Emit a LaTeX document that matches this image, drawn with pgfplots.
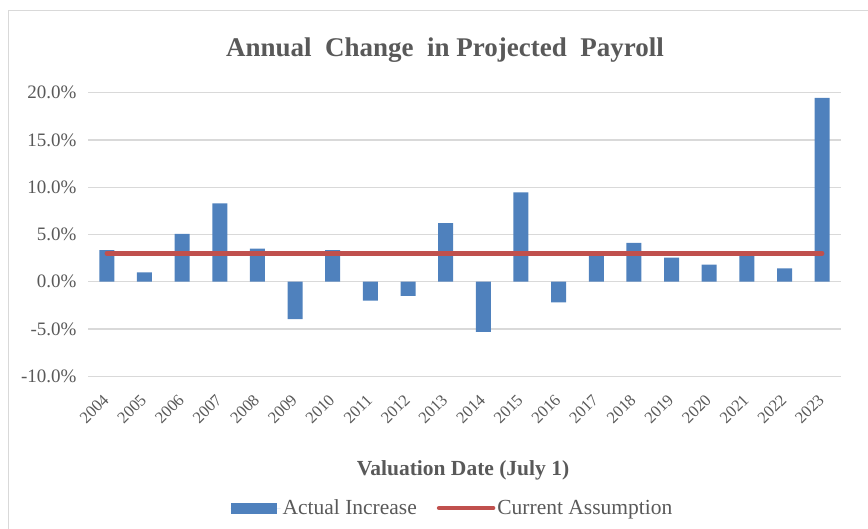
\documentclass[border=0pt]{standalone}
\usepackage{pgfplots}
\pgfplotsset{compat=1.18}
\usepackage{fontspec}
\setmainfont{Liberation Serif}
\definecolor{barblue}{HTML}{4F81BD}
\definecolor{linered}{HTML}{C0504D}
\definecolor{textgray}{HTML}{595959}
\definecolor{gridgray}{HTML}{D9D9D9}
\begin{document}
\begin{tikzpicture}[x=1pt,y=1pt]
\path[use as bounding box] (0,0) rectangle (868,-529);
\draw[gridgray, line width=1.2pt] (8.5,-540) -- (8.5,-10.5) -- (880,-10.5);
\node[anchor=base, text=textgray, font=\fontsize{27}{32}\selectfont\bfseries] at (445,-57)
  {Annual\hspace{0.5em}Change\hspace{0.5em}in Projected\hspace{0.5em}Payroll};
\node[anchor=base, text=textgray, font=\fontsize{21.5}{26}\selectfont\bfseries] at (463,-475)
  {Valuation Date (July 1)};
\begin{axis}[
  at={(88pt,-376.2pt)}, anchor=south west,
  width=753pt, height=283.5pt, scale only axis,
  xmin=-0.5, xmax=19.5, ymin=-10, ymax=20,
  axis line style={draw=none},
  major tick length=0pt,
  ymajorgrids, grid style={color=gridgray, line width=1.2pt},
  ytick={-10,-5,0,5,10,15,20},
  yticklabels={-10.0\%,-5.0\%,0.0\%,5.0\%,10.0\%,15.0\%,20.0\%},
  yticklabel style={font=\fontsize{19}{22}\selectfont, text=textgray, xshift=-8pt},
  xtick={0,...,19},
  xticklabels={2004,2005,2006,2007,2008,2009,2010,2011,2012,2013,2014,2015,2016,2017,2018,2019,2020,2021,2022,2023},
  xticklabel style={font=\fontsize{16.5}{20}\selectfont, text=textgray, rotate=45, anchor=north east, inner sep=0pt, xshift=-15.5pt, yshift=-8.5pt},
  legend style={at={(0.484,-0.465)}, anchor=center, draw=none, fill=none,
    font=\fontsize{21.5}{26}\selectfont, text=textgray, legend columns=2,
    /tikz/every even column/.append style={column sep=18pt}},
]
\addplot[ybar, bar width=15pt, fill=barblue, draw=none,
  legend image code/.code={\fill[barblue] (0pt,-5.5pt) rectangle (46pt,5.5pt); \path (0pt,0pt) -- (50pt,0pt);}]
  coordinates {(0,3.35) (1,1.0) (2,5.05) (3,8.3) (4,3.5) (5,-3.95) (6,3.35) (7,-2.0) (8,-1.5) (9,6.2)
               (10,-5.3) (11,9.45) (12,-2.2) (13,3.0) (14,4.1) (15,2.55) (16,1.8) (17,3.0) (18,1.4) (19,19.45)};
\addlegendentry{Actual Increase}
\addplot[color=linered, line width=4.5pt, line cap=round, mark=none,
  legend image code/.code={\draw[linered, line width=4.5pt, line cap=round] (2pt,0pt) -- (51pt,0pt); \path (0pt,0pt) -- (54pt,0pt);}]
  coordinates {(0,3.0) (1,3.0) (2,3.0) (3,3.0) (4,3.0) (5,3.0) (6,3.0) (7,3.0) (8,3.0) (9,3.0)
               (10,3.0) (11,3.0) (12,3.0) (13,3.0) (14,3.0) (15,3.0) (16,3.0) (17,3.0) (18,3.0) (19,3.0)};
\addlegendentry{Current Assumption}
\end{axis}
\end{tikzpicture}
\end{document}
